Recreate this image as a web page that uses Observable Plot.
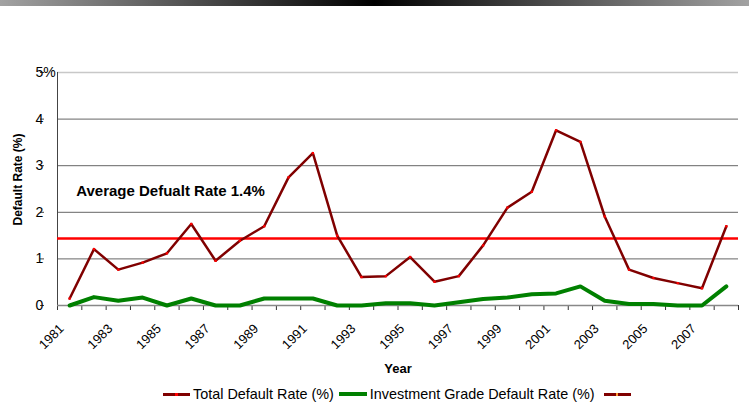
<!DOCTYPE html>
<html><head><meta charset="utf-8">
<script src="https://cdn.jsdelivr.net/npm/d3@7"></script>
<script src="https://cdn.jsdelivr.net/npm/@observablehq/plot@0.6"></script>
<style>
body{margin:0;background:#fff;font-family:"Liberation Sans",Arial,sans-serif}
#wrap{position:relative;width:749px;height:418px;overflow:hidden;background:#fff}
#bar{position:absolute;left:0;top:0;width:749px;height:6px;background:linear-gradient(to right,#a2a2a2 0%,#000 50%,#a2a2a2 100%);z-index:2}
#chart{position:absolute;left:0;top:0}
#legend{position:absolute;left:163px;top:386px;display:flex;align-items:center;font-size:14.4px;color:#000;white-space:nowrap}
.mk{position:relative;height:3px;width:27px}
.mk i{position:absolute;left:12px;top:0;width:3px;height:3px}
</style></head>
<body>
<div id="wrap"><div id="bar"></div><div id="chart"></div>
<div id="legend">
<span class="mk" style="background:#800000"><i style="background:#ff0000"></i></span><span style="margin-left:3px">Total Default Rate (%)</span>
<span class="mk" style="background:#008000;height:4px;width:28px;margin-left:5px"></span><span style="margin-left:3px">Investment Grade Default Rate (%)</span>
<span class="mk" style="background:#800000;margin-left:9px"><i style="background:#ff9933;width:2px"></i></span>
</div></div>
<script>
const years = [1981,1982,1983,1984,1985,1986,1987,1988,1989,1990,1991,1992,1993,1994,1995,1996,1997,1998,1999,2000,2001,2002,2003,2004,2005,2006,2007,2008];
const totalRate = [0.15,1.21,0.77,0.92,1.12,1.75,0.96,1.39,1.70,2.75,3.27,1.50,0.61,0.63,1.04,0.51,0.63,1.29,2.10,2.44,3.76,3.51,1.91,0.77,0.59,0.48,0.37,1.70];
const investRate = [0,0.18,0.10,0.17,0,0.15,0,0,0.15,0.15,0.15,0,0,0.05,0.05,0,0.07,0.14,0.17,0.24,0.26,0.41,0.10,0.03,0.03,0,0,0.41];
const averageRate = 1.44;
const yTicks = [0,1,2,3,4,5];
const yTickLabels = ["0","1","2","3","4","5%"];
const xTickLabels = years.filter(y => y % 2 === 1);
const annotation = "Average Defualt Rate 1.4%";
const xTitle = "Year";
const yTitle = "Default Rate (%)";

const rows = years.map((y, i) => ({year: y, total: totalRate[i], invest: investRate[i]}));
const xDomain = [years[0] - 0.5, years[years.length - 1] + 0.5];
const boundaries = [...years.map(y => y - 0.5), years[years.length - 1] + 0.5];
const font = '"Liberation Sans", Arial, sans-serif';

const chart = Plot.plot({
  width: 749, height: 380,
  marginLeft: 57, marginRight: 11, marginTop: 72, marginBottom: 75,
  style: {fontFamily: font, fontSize: "13px", color: "#000", background: "transparent"},
  x: {domain: xDomain, axis: null, label: null},
  y: {domain: [0, 5], axis: null, label: null},
  marks: [
    Plot.ruleY(yTicks.filter(t => t > 0 && t < 5), {stroke: "#666", strokeWidth: 1}),
    Plot.ruleY(yTicks.filter(t => t === 5), {stroke: "#c8c8c8", strokeWidth: 1.5}),
    Plot.ruleX([xDomain[0]], {stroke: "#444", strokeWidth: 1}),
    Plot.axisY({ticks: yTicks, label: null, tickFormat: d => yTickLabels[yTicks.indexOf(d)], tickSize: 4, textAnchor: "start", dx: -13, fontSize: 14, stroke: "#444"}),
    Plot.axisX({ticks: boundaries, label: null, tickFormat: () => "", tickSize: 5, stroke: "#333"}),
    Plot.ruleY([0], {stroke: "#888", strokeWidth: 1.5}),
    Plot.text(xTickLabels, {x: d => d, frameAnchor: "bottom", text: d => String(d), rotate: -45, textAnchor: "end", lineAnchor: "middle", dx: -8, dy: 21, fontSize: 13}),
    Plot.text([xTitle], {frameAnchor: "bottom", textAnchor: "middle", lineAnchor: "middle", dy: 63, fontWeight: "bold", fontSize: 13}),
    Plot.text([yTitle], {frameAnchor: "left", textAnchor: "middle", lineAnchor: "middle", rotate: -90, dx: -39.5, dy: -9.5, fontWeight: "bold", fontSize: 12}),
    Plot.ruleY([averageRate], {stroke: "#ff0000", strokeWidth: 2.5}),
    Plot.line(rows, {x: "year", y: "invest", stroke: "#008000", strokeWidth: 4, strokeLinejoin: "round"}),
    Plot.line(rows, {x: "year", y: "total", stroke: "#800000", strokeWidth: 2.5}),
    Plot.dot(rows, {x: "year", y: "total", r: 1.3, fill: "#ff0000", stroke: "none", symbol: "square"}),
    Plot.text([annotation], {x: 1981.27, y: 2.45, textAnchor: "start", fontWeight: "bold", fontSize: 15})
  ]
});
document.getElementById("chart").appendChild(chart);
</script>
</body></html>
